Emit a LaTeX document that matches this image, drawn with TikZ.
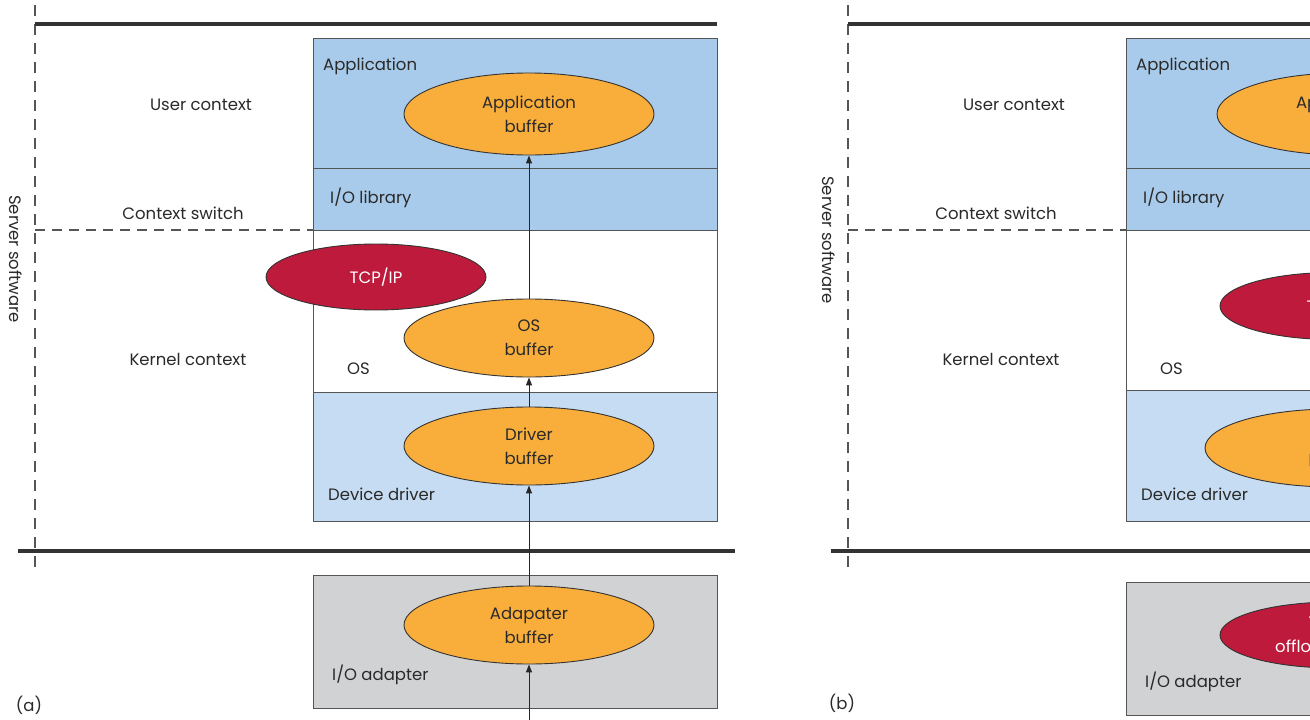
\documentclass[tikz,border=0pt]{standalone}
\usepackage{fontspec}
\setmainfont{Poppins}
\usetikzlibrary{arrows.meta,shapes.geometric}
\definecolor{appblue}{HTML}{A9CBEB}
\definecolor{drvblue}{HTML}{C6DCF2}
\definecolor{adgray}{HTML}{D1D2D4}
\definecolor{buforange}{HTML}{F9AE3B}
\definecolor{tcpred}{HTML}{BE1A3C}
\definecolor{linegray}{HTML}{555555}
\definecolor{txtgray}{HTML}{2A2A2A}
\newcommand\figfont{\fontsize{16.5}{24}\selectfont}
\begin{document}
\begin{tikzpicture}[x=1pt,y=-1pt,
  every node/.style={font=\figfont,text=txtgray},
  layerbox/.style={rectangle,draw=linegray,line width=1.2pt,anchor=north west,inner sep=0pt,minimum width=404pt},
  lbl/.style={anchor=west,inner sep=0pt},
  buf/.style={ellipse,draw=black!80,line width=0.9pt,fill=buforange,minimum width=250pt,minimum height=78pt,inner sep=0pt,align=center,text=txtgray},
  redell/.style={ellipse,draw=black!80,line width=0.9pt,fill=tcpred,minimum width=220pt,minimum height=66pt,inner sep=0pt,align=center,text=white},
  rule/.style={draw=black!80,line width=3.5pt},
  dashv/.style={draw=linegray,line width=1.8pt,dash pattern=on 11pt off 8pt},
  dashh/.style={draw=linegray,line width=1.4pt,dash pattern=on 10pt off 7pt},
  flow/.style={draw=black!85,line width=1pt,-{Triangle[length=8pt,width=6pt]}}
]
\useasboundingbox (0,0) rectangle (1310,720);
\clip (0,0) rectangle (1310,720);
\fill[white] (0,0) rectangle (1310,720);

\foreach \p/\dx/\ady/\ssy/\osb/\lab/\laby in {a/0/575/259/392/(a)/705, b/813/582/240/390/(b)/703}{
  \pgfmathsetmacro\osh{\osb-230}
  \pgfmathsetmacro\drh{521-\osb}
  \begin{scope}[xshift=\dx pt]
    % frame lines
    \draw[dashv] (35,5) -- (35,574);
    \draw[rule] (35,24) -- (717,24);
    \draw[rule] (18,551) -- (735,551);
    \draw[dashh] (35,230) -- (313,230);
    % side labels
    \node[rotate=-90] (ss-\p) at (16,\ssy) {Server software};
    \node (uc-\p) at (201,105) {User context};
    \node (cs-\p) at (183,213) {Context switch};
    \node (kc-\p) at (188,359) {Kernel context};
    \node (lab-\p) at (29,\laby) {\lab};
    % layer boxes
    \node[layerbox,fill=appblue,minimum height=130pt] (app-\p) at (313,38) {};
    \node[layerbox,fill=appblue,minimum height=62pt] (lib-\p) at (313,168) {};
    \node[layerbox,fill=white,minimum height=\osh pt] (os-\p) at (313,230) {};
    \node[layerbox,fill=drvblue,minimum height=\drh pt] (drv-\p) at (313,\osb) {};
    \node[layerbox,fill=adgray,minimum height=133pt] (ada-\p) at (313,\ady) {};
    % box labels
    \node[lbl] (appl-\p) at (323,66) {Application};
    \node[lbl] (libl-\p) at (330,198) {I/O library};
    \node[lbl] (osl-\p) at (347,369) {OS};
    \node[lbl] (drvl-\p) at (328,494) {Device driver};
    \node[lbl] (adal-\p) at (332,\ady+100) {I/O adapter};
  \end{scope}
}

% panel (a) buffers
\node[buf,minimum height=82pt] (appbuf-a) at (529,114) {Application\\buffer};
\node[redell] (tcp-a) at (376,277) {TCP/IP};
\node[buf] (osbuf-a) at (529,338) {OS\\buffer};
\node[buf] (drvbuf-a) at (529,446) {Driver\\buffer};
\node[buf] (adabuf-a) at (529,625) {Adapater\\buffer};
\coordinate (in-a) at (529,724);
\draw[flow] (in-a) -- (adabuf-a);
\draw[flow] (adabuf-a) -- (drvbuf-a);
\draw[flow] (drvbuf-a) -- (osbuf-a);
\draw[flow] (osbuf-a) -- (appbuf-a);

% panel (b) buffers (partly outside the frame, as in the reference)
\node[buf,minimum width=252pt,minimum height=82pt] (appbuf-b) at (1343,114) {Application\\buffer};
\node[redell,minimum width=226pt,minimum height=67pt] (tcp-b) at (1333,306) {TCP/IP};
\node[buf,minimum width=256pt] (drvbuf-b) at (1333,448) {Driver\\buffer};
\node[redell,minimum width=230pt,minimum height=66pt] (toe-b) at (1335,635) {TCP/IP\\offload engine};
\end{tikzpicture}
\end{document}
